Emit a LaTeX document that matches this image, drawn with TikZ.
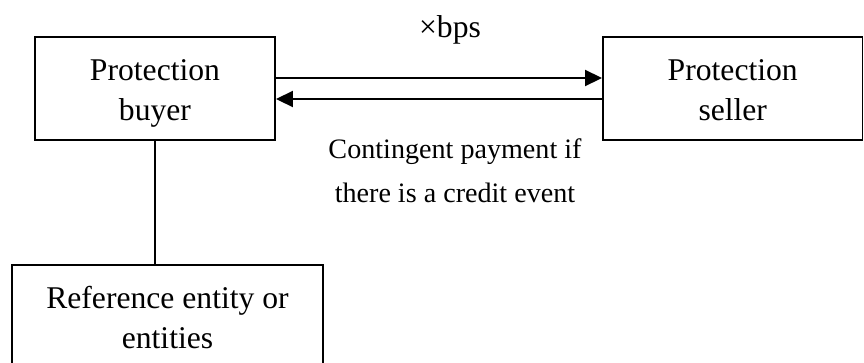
\documentclass[tikz,border=0pt]{standalone}
\usepackage{fontspec}
\setmainfont{Liberation Serif}
\usetikzlibrary{arrows.meta}

\tikzset{
  party/.style={draw=black, line width=1.1pt, minimum height=2.06cm, align=center,
    inner sep=0pt, text height=1.26cm, text depth=0pt, font=\fontsize{18}{22.7}\selectfont},
  flow/.style={line width=1.1pt, -{Triangle[length=0.34cm,width=0.32cm]}},
  note/.style={align=center, font=\fontsize{16}{25}\selectfont}
}

\begin{document}
\begin{tikzpicture}
  \useasboundingbox (0,0) rectangle (17.28,-7.24);
  % the two counterparties
  \node[party, minimum width=4.8cm] (buyer) at (3.1,-1.77) {Protection\\buyer};
  \node[party, minimum width=5.19cm] (seller) at (14.655,-1.77) {Protection\\seller};
  % underlying name, runs off the bottom
  \node[party, minimum width=6.22cm] (refent) at (3.35,-6.33) {Reference entity or\\entities};
  % premium leg and protection leg
  \draw[flow] ([yshift=0.21cm]buyer.east) -- ([yshift=0.21cm]seller.west);
  \draw[flow] ([yshift=-0.21cm]seller.west) -- ([yshift=-0.21cm]buyer.east);
  \draw[line width=1.1pt] (buyer.south) -- (buyer.south |- refent.north);
  \node[anchor=base, font=\fontsize{18}{22}\selectfont] (fee) at (9.0,-0.74) {×bps};
  \node[note] (payout) at (9.1,-3.41) {Contingent payment if\\there is a credit event};
\end{tikzpicture}
\end{document}
